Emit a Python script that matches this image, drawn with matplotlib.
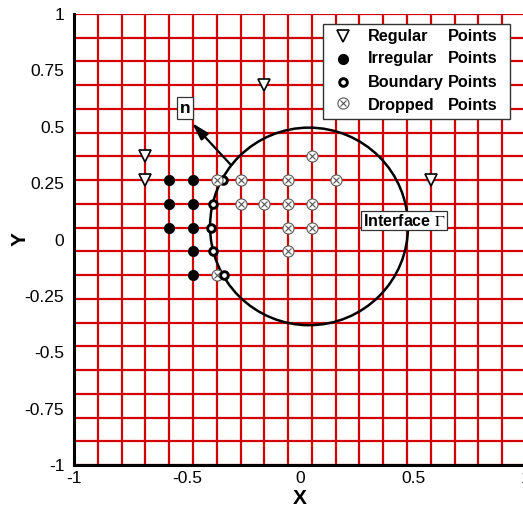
import matplotlib
matplotlib.use('Agg')
import matplotlib.pyplot as plt
import numpy as np
from matplotlib.patches import Circle, Rectangle

plt.rcParams['font.family'] = ['Liberation Sans', 'DejaVu Sans']
plt.rcParams['mathtext.fontset'] = 'stix'

# mesh: 20 nodes from -1 to 1 in each direction
n_nodes = 20
nodes = np.linspace(-1, 1, n_nodes)

# grid indices (i -> x, j -> y) of the marked nodes
regular_i = [3, 3, 8, 15]
regular_j = [13, 12, 16, 12]
irregular_i = [4, 5, 4, 5, 4, 5, 5, 5]
irregular_j = [12, 12, 11, 11, 10, 10, 9, 8]
dropped_i = [6, 7, 9, 11, 7, 8, 9, 10, 10, 9, 10, 9, 6]
dropped_j = [12, 12, 12, 12, 11, 11, 11, 11, 13, 10, 10, 9, 8]

# boundary points sit on the interface, on the grid rows
boundary_x = [-0.34, -0.385, -0.396, -0.386, -0.338]
boundary_j = [12, 11, 10, 9, 8]

circle_center = (0.04, 0.058)
circle_radius = 0.438

normal_tail = (-0.305, 0.330)
normal_head = (-0.478, 0.517)

xtick_vals = [-1, -0.5, 0, 0.5, 1]
xtick_labels = ['-1', '-0.5', '0', '0.5', '1']
ytick_vals = [1, 0.75, 0.5, 0.25, 0, -0.25, -0.5, -0.75, -1]
ytick_labels = ['1', '0.75', '0.5', '0.25', '0', '-0.25', '-0.5', '-0.75', '-1']

legend_labels = ['Regular', 'Irregular', 'Boundary', 'Dropped']

W, H = 523, 508
fig = plt.figure(figsize=(W / 100, H / 100), dpi=100)
ax = fig.add_axes([74 / W, 43 / H, 452 / W, 451 / H])
ax.set_xlim(-1, 1)
ax.set_ylim(-1, 1)

# red mesh
for v in nodes:
    ax.axvline(v, color='#d40000', lw=1.6, zorder=1)
    ax.axhline(v, color='#d40000', lw=1.6, zorder=1)

# interface
ax.add_patch(Circle(circle_center, circle_radius, fill=False, ec='black', lw=1.8, zorder=3))

# normal vector
ax.annotate('', xy=normal_head, xytext=normal_tail,
            arrowprops=dict(arrowstyle='-|>,head_length=0.7,head_width=0.2',
                            color='black', lw=1.6, mutation_scale=15, shrinkA=0, shrinkB=0),
            zorder=4)
ax.text(-0.509, 0.583, 'n', fontsize=12.5, fontweight='bold', ha='center', va='center',
        bbox=dict(boxstyle='square,pad=0.18', fc='white', ec='#333333', lw=0.9), zorder=6)
ax.text(0.46, 0.084, r'Interface $\Gamma$', fontsize=11.5, fontweight='bold', ha='center',
        va='center', bbox=dict(boxstyle='square,pad=0.12', fc='white', ec='#333333', lw=0.9),
        zorder=6)

rx = nodes[regular_i]
ry = nodes[regular_j]
ax.plot(rx, ry, 'v', ms=8.5, mfc='white', mec='black', mew=1.2, ls='none', zorder=5)

ix = nodes[irregular_i]
iy = nodes[irregular_j]
ax.plot(ix, iy, 'o', ms=7, mfc='black', mec='black', ls='none', zorder=5)

by = nodes[boundary_j]
# the top boundary point is partly hidden by its dropped neighbour
ax.plot(boundary_x[:1], by[:1], 'o', ms=5.5, mfc='white', mec='black', mew=2.1, ls='none', zorder=5)
ax.plot(boundary_x[1:], by[1:], 'o', ms=5.5, mfc='white', mec='black', mew=2.1, ls='none', zorder=7)

dx = nodes[dropped_i]
dy = nodes[dropped_j]
ax.plot(dx, dy, 'o', ms=8, mfc='white', mec='#555555', mew=0.8, ls='none', zorder=6)
ax.plot(dx, dy, 'x', ms=4.3, mec='#555555', mew=0.8, ls='none', zorder=6)

# legend box drawn by hand
tr = ax.transAxes
ax.add_patch(Rectangle((0.5515, 0.7672), 0.4131, 0.2106, transform=tr, fc='white',
                       ec='#333333', lw=1.0, zorder=8))
rows = [0.9512, 0.9009, 0.8486, 0.7975]
mk_x = 0.595
ax.plot([mk_x], [rows[0]], 'v', transform=tr, ms=8.5, mfc='white', mec='black', mew=1.2, zorder=9)
ax.plot([mk_x], [rows[1]], 'o', transform=tr, ms=7, mfc='black', mec='black', zorder=9)
ax.plot([mk_x], [rows[2]], 'o', transform=tr, ms=5.5, mfc='white', mec='black', mew=2.1, zorder=9)
ax.plot([mk_x], [rows[3] + 0.006], 'o', transform=tr, ms=8, mfc='white', mec='#555555', mew=0.8, zorder=9)
ax.plot([mk_x], [rows[3] + 0.006], 'x', transform=tr, ms=4.3, mec='#555555', mew=0.8, zorder=9)
for lab, yy in zip(legend_labels, rows):
    ax.text(0.651, yy, lab, transform=tr, fontsize=11.7, fontweight='bold', va='center', zorder=9)
    ax.text(0.828, yy, 'Points', transform=tr, fontsize=11.7, fontweight='bold', va='center', zorder=9)

ax.set_xticks(xtick_vals)
ax.set_xticklabels(xtick_labels)
ax.set_yticks(ytick_vals)
ax.set_yticklabels(ytick_labels)
ax.tick_params(axis='both', length=0, labelsize=12.5)
ax.tick_params(axis='x', pad=4)
ax.tick_params(axis='y', pad=7)

for s in ['top', 'right']:
    ax.spines[s].set_visible(False)
for s in ['left', 'bottom']:
    ax.spines[s].set_linewidth(2.2)
    ax.spines[s].set_color('black')
    ax.spines[s].set_zorder(10)

fig.text(300 / W, 1 - 499 / H, 'X', fontsize=15, fontweight='bold', ha='center', va='center')
fig.text(20 / W, 1 - 239 / H, 'Y', fontsize=15, fontweight='bold', ha='center', va='center',
         rotation=90)

fig.savefig('out.png', dpi=100)
